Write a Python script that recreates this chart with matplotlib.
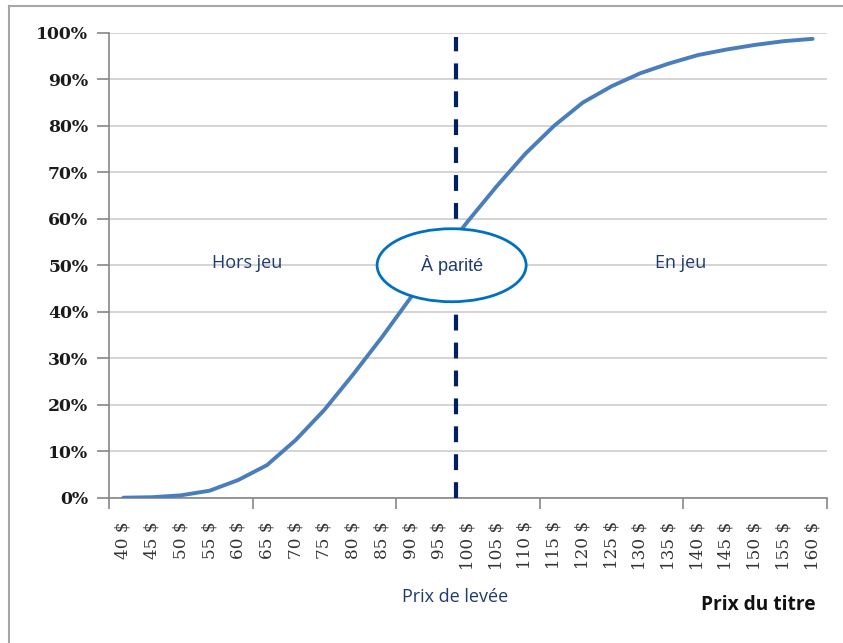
import matplotlib
matplotlib.use('Agg')
from matplotlib import pyplot as plt
from matplotlib.patches import Ellipse
from matplotlib.lines import Line2D

# Prix du titre (categories) and cumulative probability (%)
prix = [40, 45, 50, 55, 60, 65, 70, 75, 80, 85, 90, 95, 100,
        105, 110, 115, 120, 125, 130, 135, 140, 145, 150, 155, 160]
proba = [0.0, 0.1, 0.5, 1.5, 3.8, 7.0, 12.4, 18.9, 26.5, 34.5, 43.0, 51.5, 59.5,
         67.0, 74.0, 80.0, 85.0, 88.5, 91.3, 93.4, 95.2, 96.4, 97.4, 98.2, 98.7]
labels = [f'{p} $' for p in prix]
prix_levee = 100
y_ticks = [0, 10, 20, 30, 40, 50, 60, 70, 80, 90, 100]

navy = '#1F3A6E'

fig = plt.figure(figsize=(8.43, 6.43), dpi=100)
ax = fig.add_axes([0.1293, 0.226, 0.8517, 0.723])

x = list(range(len(prix)))
ax.plot(x, proba, color='#4A7DBB', lw=2.8, solid_capstyle='round', zorder=3)

ax.set_xlim(-0.5, len(prix) - 0.5)
ax.set_ylim(0, 100)

# y axis
ax.set_yticks(y_ticks)
ax.set_yticklabels([f'{v}%' for v in y_ticks], fontfamily='DejaVu Serif',
                   fontweight='bold', fontsize=12.4, color='#1A1A1A')
ax.yaxis.grid(True, color='#D4D4D4', lw=1.4)
ax.set_axisbelow(True)

# x axis: labels at category centres, tick marks every 5 categories
ax.set_xticks(x)
ax.set_xticklabels(labels, rotation=90, fontfamily='DejaVu Serif',
                   fontsize=12.2, color='#333333')
ax.tick_params(axis='x', length=0, pad=17)
ax.set_xticks([i - 0.5 for i in range(0, len(prix) + 1, 5)], minor=True)
ax.tick_params(axis='x', which='minor', length=8, width=1.2, color='#868686')
ax.tick_params(axis='y', length=9, width=1.2, color='#868686', pad=6)

for side in ['top', 'right']:
    ax.spines[side].set_visible(False)
for side in ['left', 'bottom']:
    ax.spines[side].set_color('#868686')
    ax.spines[side].set_linewidth(1.2)

# strike line
i_levee = prix.index(prix_levee) - 0.42
ax.axvline(i_levee, ymin=0, ymax=0.99, color='#002060', lw=3,
           dashes=(3.8, 2.9), dash_capstyle='butt', zorder=4)

# annotations
ax.add_patch(Ellipse((i_levee - 0.15, 50), 5.19, 15.7, facecolor='white',
                     edgecolor='#0070C0', lw=2, zorder=5))
ax.text(i_levee - 0.15, 50, 'À parité', ha='center', va='center', fontsize=13,
        fontfamily='Liberation Sans', color=navy, zorder=6)
ax.text(4.3, 50.5, 'Hors jeu', ha='center', va='center', fontsize=13,
        fontfamily='Open Sans', color=navy)
ax.text(19.4, 50.5, 'En jeu', ha='center', va='center', fontsize=13,
        fontfamily='Open Sans', color=navy)

fig.text(455 / 843, 1 - 597 / 643, 'Prix de levée', ha='center', va='center',
         fontsize=13, fontfamily='Open Sans', color=navy)
fig.text(758 / 843, 1 - 605 / 643, 'Prix du titre', ha='center', va='center',
         fontsize=13.8, fontfamily='Open Sans', fontweight='bold', color='#111111')

# outer frame (left and top edges)
fig.add_artist(Line2D([8.5 / 843, 8.5 / 843], [0, 1 - 5.5 / 643],
                      transform=fig.transFigure, color='#A6A6A6', lw=1.5))
fig.add_artist(Line2D([8.5 / 843, 1], [1 - 5.5 / 643, 1 - 5.5 / 643],
                      transform=fig.transFigure, color='#A6A6A6', lw=1.5))

fig.savefig('out.png', dpi=100, facecolor='white')
